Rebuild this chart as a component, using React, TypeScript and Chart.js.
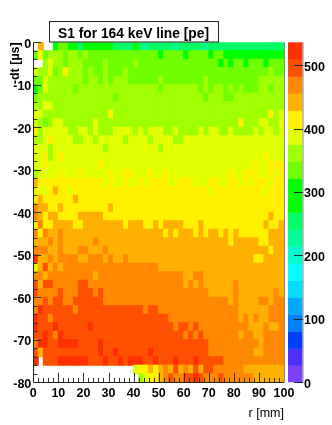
import React, { useEffect, useRef } from "react";
import { Chart, registerables } from "chart.js";

Chart.register(...registerables);

const titleText = "S1 for 164 keV line [pe]";
const xAxisLabel = "r [mm]";
const yAxisLabel = "-dt [µs]";
const colorMax = 536;
const binSizeX = 2;
const binSizeY = 2;
const bandColors = [
  "#8040ff", "#5030ff", "#0040ff", "#0080ff", "#00a8ff", "#00ddff", "#00ffff", "#00ffcc", "#00ff99", "#00ff66",
  "#00ff00", "#00ff00", "#70ff00", "#a0ff00", "#e0ff00", "#fff000", "#ffb000", "#ff8800", "#ff5000", "#ff3000",
];

// S1 in pe for each (dt, r) bin: one list per 2 µs row, one value per 2 mm column. 0 = empty bin.
const row00 = [0,442,0,0,308,335,335,308,308,255,308,308,308,308,308,308,255,255,255,255,308,255,228,255,255,255,255,255,228,255,255,255,255,255,228,255,255,255,255,255,255,255,255,255,255,255,255,255,255,255];
const row01 = [335,415,335,362,362,362,335,362,362,335,362,335,335,335,335,335,335,335,335,335,335,335,335,335,335,308,335,335,335,335,308,335,335,335,335,308,335,335,308,308,308,308,308,308,308,308,308,308,308,308];
const row02 = [0,0,362,389,362,362,335,362,362,362,335,335,335,335,362,335,335,335,335,335,362,335,335,335,335,335,335,335,335,335,335,335,335,335,335,335,335,308,335,308,335,335,308,335,335,335,308,335,335,335];
const row03 = [389,362,362,389,335,362,415,362,362,362,335,362,335,335,362,335,335,335,362,335,335,335,335,335,335,335,335,335,335,335,335,335,335,335,335,335,335,335,335,335,335,335,335,335,335,335,335,362,335,335];
const row04 = [335,335,389,362,362,362,362,362,362,362,335,362,362,335,362,335,362,362,362,335,335,335,335,335,335,362,335,335,335,335,335,335,335,335,362,335,335,335,335,335,335,335,335,335,335,362,362,362,362,362];
const row05 = [308,335,389,362,362,362,362,362,335,362,362,362,362,362,362,362,362,362,362,362,362,362,362,362,362,335,362,362,362,362,362,362,362,335,362,335,362,362,335,362,335,362,335,335,335,362,362,335,362,362];
const row06 = [335,362,362,362,362,362,362,362,362,362,362,362,362,362,362,362,335,362,362,362,362,362,362,362,362,362,362,362,362,362,362,362,362,362,335,362,362,362,335,335,362,362,362,362,362,362,362,362,362,362];
const row07 = [362,362,389,389,362,362,362,362,362,362,362,362,362,362,362,362,362,362,362,362,362,362,362,362,362,362,362,362,362,362,362,362,362,362,362,362,362,362,362,362,362,362,362,362,362,362,362,362,362,362];
const row08 = [389,389,362,362,362,362,362,362,362,362,362,362,362,362,362,415,362,362,362,362,362,362,362,362,362,362,362,362,362,362,362,362,362,362,362,362,362,362,362,362,362,362,362,362,362,362,362,415,362,389];
const row09 = [389,362,335,362,389,389,362,362,362,362,362,362,389,362,362,362,362,362,362,362,362,362,362,362,362,362,362,362,362,362,362,362,362,362,362,362,362,362,362,362,362,415,362,362,362,389,389,362,362,389];
const row10 = [415,362,389,389,389,389,389,362,362,389,389,362,389,362,362,362,389,389,389,389,362,389,362,389,389,389,362,362,389,362,362,362,362,389,362,389,389,362,362,389,362,362,362,362,389,362,389,389,362,389];
const row11 = [362,362,389,415,389,389,389,389,362,362,389,389,362,389,389,389,389,389,362,389,389,389,389,362,389,389,389,389,362,362,389,389,389,389,389,389,389,389,389,389,389,389,389,389,389,389,389,389,389,389];
const row12 = [389,389,389,362,389,389,389,389,389,389,389,389,389,389,362,389,389,389,389,389,389,389,389,389,389,362,389,389,389,389,389,389,389,389,389,389,389,389,389,389,389,389,389,389,389,389,389,389,389,389];
const row13 = [389,389,415,362,389,415,389,389,389,389,389,389,389,389,389,389,389,389,389,389,389,389,389,389,389,389,389,389,389,389,389,389,389,389,389,389,389,389,389,389,389,389,389,389,389,389,415,389,389,389];
const row14 = [389,389,415,389,389,389,389,389,389,389,389,389,389,415,389,389,389,389,389,389,389,389,389,389,389,389,389,389,389,389,389,389,389,389,389,389,389,389,389,389,389,389,389,389,415,389,389,415,415,415];
const row15 = [362,389,389,389,389,415,389,389,389,415,389,389,389,389,389,415,389,389,415,415,389,389,389,415,389,389,415,389,389,389,389,389,389,389,389,389,389,389,389,415,389,389,415,415,415,389,389,415,389,415];
const row16 = [442,415,415,415,415,415,415,415,415,415,415,415,415,415,389,415,389,389,415,389,389,415,389,415,415,415,415,389,389,415,415,415,389,389,389,415,415,389,389,415,415,389,415,389,415,415,415,389,415,415];
const row17 = [415,389,389,415,442,415,415,389,415,415,415,415,415,415,415,415,415,415,415,415,415,415,415,415,415,415,415,415,415,415,415,415,415,415,415,389,415,415,415,415,415,415,415,415,415,415,389,415,415,415];
const row18 = [415,442,415,415,415,415,415,415,442,415,415,415,415,415,415,415,415,415,415,415,415,415,415,415,415,415,415,415,415,415,415,415,415,415,415,415,415,415,415,415,415,415,415,415,415,415,415,415,415,415];
const row19 = [469,442,442,415,415,442,415,415,415,415,415,415,415,415,415,442,415,415,415,415,415,415,415,415,415,415,415,415,415,415,415,415,415,415,415,415,415,415,415,415,415,415,415,415,415,415,415,415,415,415];
const row20 = [469,442,415,442,442,415,415,415,415,442,442,442,442,442,415,415,415,415,415,415,415,415,415,415,415,415,415,415,415,415,415,415,415,415,415,415,415,415,415,415,415,415,415,415,415,415,415,442,415,415];
const row21 = [415,469,415,415,442,442,442,442,415,415,442,442,442,442,442,442,442,442,415,442,442,442,415,415,442,415,442,442,442,442,415,415,415,442,415,415,415,415,415,415,415,415,415,415,415,415,442,415,415,442];
const row22 = [469,415,469,442,442,469,442,442,442,442,442,442,442,442,442,442,442,442,442,442,442,442,442,442,442,442,415,442,415,442,442,442,415,442,415,442,442,415,442,415,442,415,415,415,415,415,415,442,442,442];
const row23 = [442,442,442,469,442,469,442,442,442,442,442,442,469,442,442,442,442,442,442,442,442,442,442,442,442,442,442,442,442,442,442,442,442,442,442,442,442,442,442,415,442,442,442,442,442,415,415,442,442,442];
const row24 = [469,469,469,442,442,469,442,442,442,469,469,442,442,442,469,442,442,442,442,442,442,442,442,442,442,442,442,442,442,442,442,442,442,442,442,442,442,442,442,442,442,442,442,442,442,442,442,415,442,442];
const row25 = [523,442,442,469,442,469,469,469,469,442,442,469,469,469,442,469,442,442,469,442,442,442,442,442,442,442,442,442,442,442,442,442,442,442,442,442,442,442,442,442,442,442,442,442,415,415,442,442,442,442];
const row26 = [389,442,496,442,469,442,469,469,469,469,469,469,469,469,469,469,469,469,469,469,469,469,469,469,469,442,442,442,442,442,442,442,442,442,442,442,442,442,442,442,442,442,442,442,442,442,442,442,442,442];
const row27 = [469,469,442,469,469,469,469,469,469,469,469,469,442,469,469,469,469,469,469,469,469,469,469,469,469,469,469,469,469,469,442,442,469,469,442,442,442,442,442,442,442,442,442,442,442,442,442,442,442,442];
const row28 = [496,442,496,496,469,469,469,469,469,496,496,469,469,469,469,469,469,469,469,469,469,469,469,469,469,469,469,469,469,469,442,469,442,469,442,442,442,442,442,442,469,442,442,442,442,442,442,442,442,442];
const row29 = [496,469,469,469,469,496,469,469,469,496,496,496,469,496,469,469,469,469,469,469,469,469,469,469,469,469,469,469,469,469,469,469,469,469,469,442,442,442,442,442,469,442,442,442,442,442,442,442,469,442];
const row30 = [469,469,496,469,496,496,469,469,496,496,496,496,496,496,469,469,469,469,469,469,469,469,469,469,469,469,469,469,469,469,469,469,469,469,469,469,469,469,469,442,469,442,442,442,442,469,469,442,469,469];
const row31 = [469,523,496,496,496,496,496,496,469,496,496,496,496,496,496,496,496,496,496,496,496,496,469,496,496,469,469,469,469,469,469,469,469,469,469,469,469,469,469,469,469,442,442,442,442,442,442,469,469,469];
const row32 = [523,496,496,469,496,496,496,496,496,496,496,496,496,496,496,496,496,496,496,496,496,496,496,496,496,496,496,469,469,469,469,469,469,469,469,469,469,469,469,469,469,442,469,442,469,442,442,469,469,469];
const row33 = [523,496,496,496,523,496,496,496,496,496,496,523,496,496,496,496,496,496,496,496,496,496,496,496,496,496,496,496,469,496,496,469,496,469,469,469,469,469,469,469,469,469,469,442,442,442,469,442,442,469];
const row34 = [496,496,523,496,469,523,496,496,496,496,496,496,496,496,496,496,496,496,496,496,496,496,496,496,496,496,496,496,496,496,469,496,469,496,469,469,469,469,469,469,469,442,469,469,442,442,469,469,469,469];
const row35 = [469,523,523,496,496,523,523,523,523,496,496,496,496,523,496,496,496,496,496,496,496,496,496,496,496,496,496,496,496,496,496,496,496,496,496,469,469,469,469,469,469,469,469,469,469,442,469,469,469,469];
const row36 = [496,442,496,496,496,496,496,496,496,496,496,496,496,523,496,496,523,496,496,496,496,496,496,523,496,496,496,496,496,496,496,496,496,496,496,469,469,469,469,469,469,469,469,469,442,442,469,469,469,469];
const row37 = [523,0,496,496,496,523,523,523,523,523,523,496,496,496,523,496,496,523,496,523,523,523,496,496,523,496,496,496,523,496,496,496,523,496,496,496,496,496,469,469,469,469,469,469,469,469,469,469,469,469];
const row38 = [0,0,0,0,0,0,0,0,0,0,0,0,0,0,0,0,0,0,0,0,389,415,415,442,415,442,469,442,496,442,469,442,496,442,496,496,469,469,469,469,469,469,442,442,442,442,442,442,442,442];
const row39 = [0,0,0,0,0,0,0,0,0,0,0,0,0,0,0,0,0,0,0,0,0,362,389,415,415,442,469,496,469,469,496,496,523,496,469,469,469,496,469,469,469,469,469,469,442,442,442,442,442,442];
const rows = [row00,row01,row02,row03,row04,row05,row06,row07,row08,row09,row10,row11,row12,row13,row14,row15,row16,row17,row18,row19,row20,row21,row22,row23,row24,row25,row26,row27,row28,row29,row30,row31,row32,row33,row34,row35,row36,row37,row38,row39];

const colorOf = (v: number) => bandColors[Math.min(19, Math.floor((v / colorMax) * 20))];

const FONT = '"Liberation Sans", Arial, sans-serif';

const overlay = {
  id: "overlay",
  afterDraw(chart: any) {
    const { ctx, chartArea: a, scales } = chart;
    const { x, y, colorScale } = scales;
    ctx.save();
    // inner ticks
    ctx.strokeStyle = "#333";
    ctx.lineWidth = 1;
    ctx.beginPath();
    for (let v = 0; v <= 100; v += binSizeX) {
      const px = Math.round(x.getPixelForValue(v)) + 0.5;
      const len = v % 10 === 0 ? 9.5 : 4.5;
      ctx.moveTo(px, a.bottom);
      ctx.lineTo(px, a.bottom - len);
    }
    for (let v = -80; v <= 0; v += binSizeY) {
      const py = Math.round(y.getPixelForValue(v)) + 0.5;
      const len = v % 10 === 0 ? 8 : 4;
      ctx.moveTo(a.left, py);
      ctx.lineTo(a.left + len, py);
    }
    ctx.stroke();
    // frame
    ctx.strokeStyle = "#888";
    ctx.beginPath();
    ctx.moveTo(Math.round(a.right) + 0.5, a.top);
    ctx.lineTo(Math.round(a.right) + 0.5, a.bottom);
    ctx.stroke();
    ctx.strokeStyle = "#222";
    ctx.beginPath();
    ctx.moveTo(33.5, a.top);
    ctx.lineTo(33.5, Math.round(a.bottom) + 0.5);
    ctx.lineTo(Math.round(a.right), Math.round(a.bottom) + 0.5);
    ctx.stroke();
    // colour bar
    const barL = 288;
    const barR = 302.5;
    const step = colorMax / 20;
    for (let k = 0; k < 20; k++) {
      const y0 = colorScale.getPixelForValue(k * step);
      const y1 = colorScale.getPixelForValue((k + 1) * step);
      ctx.fillStyle = bandColors[k];
      ctx.fillRect(barL, y1, barR - barL, y0 - y1 + (k === 0 ? 0 : 0.5));
    }
    ctx.strokeStyle = "#888";
    ctx.beginPath();
    ctx.moveTo(barR + 0.5, a.top);
    ctx.lineTo(barR + 0.5, a.bottom);
    ctx.stroke();
    ctx.strokeStyle = "#222";
    ctx.beginPath();
    for (const t of colorScale.ticks) {
      const py = Math.round(colorScale.getPixelForValue(t.value)) + 0.5;
      ctx.moveTo(294, py);
      ctx.lineTo(303, py);
    }
    ctx.stroke();
    // title box
    ctx.fillStyle = "#fff";
    ctx.fillRect(49.5, 21.5, 169, 20.5);
    ctx.strokeStyle = "#222";
    ctx.strokeRect(49.5, 21.5, 169, 20.5);
    ctx.fillStyle = "#000";
    ctx.font = `bold 13.8px ${FONT}`;
    ctx.textAlign = "left";
    ctx.textBaseline = "alphabetic";
    ctx.fillText(titleText, 58, 37.5);
    ctx.restore();
  },
};

const labelFont = { family: FONT, size: 12.5, weight: "bold" as const };

export default function App() {
  const ref = useRef<HTMLCanvasElement>(null);
  useEffect(() => {
    document.body.style.margin = "0";
    document.body.style.background = "#fff";
    const points: any[] = [];
    const colors: string[] = [];
    rows.forEach((vals, r) => {
      vals.forEach((v, c) => {
        if (!v) return;
        points.push({ x: binSizeX * c + binSizeX / 2, y: [-binSizeY * (r + 1), -binSizeY * r] });
        colors.push(colorOf(v));
      });
    });
    const chart = new Chart(ref.current as HTMLCanvasElement, {
      type: "bar",
      data: {
        datasets: [
          {
            data: points,
            backgroundColor: colors,
            borderWidth: 0,
            borderSkipped: false,
            inflateAmount: 0.5,
            barPercentage: 1,
            categoryPercentage: 1,
          } as any,
        ],
      },
      plugins: [overlay as any],
      options: {
        responsive: false,
        animation: false,
        layout: { padding: { top: 42.3 } },
        plugins: { legend: { display: false }, tooltip: { enabled: false }, title: { display: false } },
        scales: {
          x: {
            type: "linear",
            offset: false,
            min: 0,
            max: 100,
            afterFit: (s: any) => { s.height = 42.7; },
            grid: { display: false, drawTicks: false, offset: false },
            border: { display: false },
            ticks: { stepSize: 10, padding: 4, color: "#000", font: labelFont, autoSkip: false, maxRotation: 0 },
            title: { display: true, text: xAxisLabel, align: "end", color: "#000", font: { family: FONT, size: 12.5 }, padding: { top: 0, bottom: 4 } },
          },
          y: {
            type: "linear",
            min: -80,
            max: 0,
            afterFit: (s: any) => { s.width = 33.3; },
            grid: { display: false, drawTicks: false },
            border: { display: false },
            ticks: { stepSize: 10, padding: 2, color: "#000", font: labelFont, labelOffset: 2, autoSkip: false },
            title: { display: true, text: yAxisLabel, align: "end", color: "#000", font: labelFont, padding: { top: 8, bottom: 0 } },
          },
          colorScale: {
            type: "linear",
            position: "right",
            min: 0,
            max: colorMax,
            afterFit: (s: any) => { s.width = 48; },
            grid: { display: false, drawTicks: false },
            border: { display: false },
            ticks: { stepSize: 100, includeBounds: false, padding: 20, color: "#000", font: labelFont, labelOffset: 2, autoSkip: false },
          },
        } as any,
      },
    });
    return () => chart.destroy();
  }, []);
  return (
    <div style={{ position: "absolute", left: 0, top: 0, width: 332, height: 425 }}>
      <canvas ref={ref} width={332} height={425} style={{ display: "block" }} />
    </div>
  );
}
